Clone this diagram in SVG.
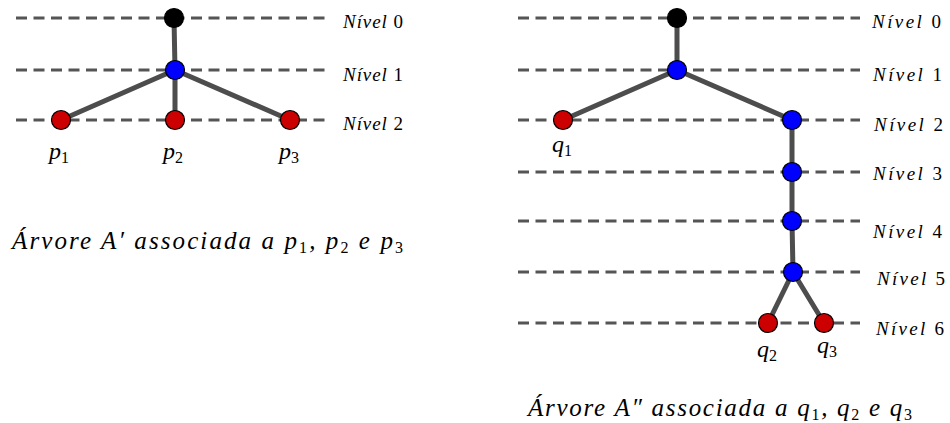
<svg xmlns="http://www.w3.org/2000/svg" width="950" height="423" viewBox="0 0 950 423">
<style>
.lvl{stroke:#555;stroke-width:3.2;stroke-dasharray:11 6.5;fill:none}
.edge{stroke:#4d4d4d;stroke-width:5;stroke-linecap:round;fill:none}
.n{stroke:#000;stroke-width:1.2}
.root{fill:#000}
.blue{fill:#0000ff}
.red{fill:#cc0000}
text{font-family:"Liberation Serif","DejaVu Serif",serif;fill:#000}
.it{font-style:italic}
.lab{font-size:19px}
.v{font-size:24px}
.cap{font-size:25px}
.sub{font-size:16px}
</style>
<rect width="950" height="423" fill="#fff"/>
<g id="levels">
<line class="lvl" x1="16" y1="18" x2="325" y2="18"/>
<line class="lvl" x1="16" y1="70" x2="325" y2="70"/>
<line class="lvl" x1="16" y1="120" x2="325" y2="120"/>
<line class="lvl" x1="518" y1="18" x2="860" y2="18"/>
<line class="lvl" x1="518" y1="70" x2="860" y2="70"/>
<line class="lvl" x1="518" y1="120" x2="860" y2="120"/>
<line class="lvl" x1="518" y1="172" x2="860" y2="172"/>
<line class="lvl" x1="518" y1="221" x2="860" y2="221"/>
<line class="lvl" x1="518" y1="272" x2="860" y2="272"/>
<line class="lvl" x1="518" y1="323" x2="860" y2="323"/>
</g>
<g id="connectors">
<line class="edge" x1="174" y1="18" x2="175" y2="70"/>
<line class="edge" x1="175" y1="70" x2="61" y2="120"/>
<line class="edge" x1="175" y1="70" x2="175" y2="120"/>
<line class="edge" x1="175" y1="70" x2="290" y2="120"/>
<line class="edge" x1="677" y1="18" x2="677" y2="70"/>
<line class="edge" x1="677" y1="70" x2="563" y2="120"/>
<line class="edge" x1="677" y1="70" x2="792" y2="120"/>
<line class="edge" x1="792" y1="120" x2="792" y2="172"/>
<line class="edge" x1="792" y1="172" x2="792" y2="221"/>
<line class="edge" x1="792" y1="221" x2="793" y2="272"/>
<line class="edge" x1="793" y1="272" x2="768" y2="323"/>
<line class="edge" x1="793" y1="272" x2="824" y2="323"/>
</g>
<g id="a1-root"><circle class="n root" cx="174" cy="18" r="9.5"/></g>
<g id="a1-n1"><circle class="n blue" cx="175" cy="70" r="9.5"/></g>
<g id="a1-p1"><circle class="n red" cx="61" cy="120" r="9.5"/><text class="it v" x="49" y="159">p<tspan class="sub" font-style="normal" dy="4">1</tspan></text></g>
<g id="a1-p2"><circle class="n red" cx="175" cy="120" r="9.5"/><text class="it v" x="163" y="159">p<tspan class="sub" font-style="normal" dy="4">2</tspan></text></g>
<g id="a1-p3"><circle class="n red" cx="290" cy="120" r="9.5"/><text class="it v" x="279" y="159">p<tspan class="sub" font-style="normal" dy="4">3</tspan></text></g>
<g id="a2-root"><circle class="n root" cx="677" cy="18" r="9.5"/></g>
<g id="a2-n1"><circle class="n blue" cx="677" cy="70" r="9.5"/></g>
<g id="a2-q1"><circle class="n red" cx="563" cy="120" r="9.5"/><text class="it v" x="552" y="152">q<tspan class="sub" font-style="normal" dy="4">1</tspan></text></g>
<g id="a2-n2"><circle class="n blue" cx="792" cy="120" r="9.5"/></g>
<g id="a2-n3"><circle class="n blue" cx="792" cy="172" r="9.5"/></g>
<g id="a2-n4"><circle class="n blue" cx="792" cy="221" r="9.5"/></g>
<g id="a2-n5"><circle class="n blue" cx="793" cy="272" r="9.5"/></g>
<g id="a2-q2"><circle class="n red" cx="768" cy="323" r="9.5"/><text class="it v" x="757" y="357">q<tspan class="sub" font-style="normal" dy="4">2</tspan></text></g>
<g id="a2-q3"><circle class="n red" cx="824" cy="323" r="9.5"/><text class="it v" x="817" y="353">q<tspan class="sub" font-style="normal" dy="4">3</tspan></text></g>
<g id="labels">
<text class="lab" x="343" y="28" textLength="60" lengthAdjust="spacing"><tspan class="it">Nível</tspan> 0</text>
<text class="lab" x="343" y="81" textLength="60" lengthAdjust="spacing"><tspan class="it">Nível</tspan> 1</text>
<text class="lab" x="343" y="130" textLength="60" lengthAdjust="spacing"><tspan class="it">Nível</tspan> 2</text>
<text class="lab" x="872" y="28" textLength="69" lengthAdjust="spacing"><tspan class="it">Nível</tspan> 0</text>
<text class="lab" x="873" y="81" textLength="69" lengthAdjust="spacing"><tspan class="it">Nível</tspan> 1</text>
<text class="lab" x="874" y="131" textLength="69" lengthAdjust="spacing"><tspan class="it">Nível</tspan> 2</text>
<text class="lab" x="873" y="180" textLength="69" lengthAdjust="spacing"><tspan class="it">Nível</tspan> 3</text>
<text class="lab" x="873" y="238" textLength="69" lengthAdjust="spacing"><tspan class="it">Nível</tspan> 4</text>
<text class="lab" x="877" y="285" textLength="68" lengthAdjust="spacing"><tspan class="it">Nível</tspan> 5</text>
<text class="lab" x="876" y="335" textLength="68" lengthAdjust="spacing"><tspan class="it">Nível</tspan> 6</text>
</g>
<g id="captions">
<text class="cap it" x="12" y="249" textLength="391" lengthAdjust="spacing">Árvore A′ associada a p<tspan class="sub" font-style="normal" dy="4">1</tspan><tspan dy="-4">, p</tspan><tspan class="sub" font-style="normal" dy="4">2</tspan><tspan dy="-4"> e p</tspan><tspan class="sub" font-style="normal" dy="4">3</tspan></text>
<text class="cap it" x="528" y="416" textLength="384" lengthAdjust="spacing">Árvore A″ associada a q<tspan class="sub" font-style="normal" dy="4">1</tspan><tspan dy="-4">, q</tspan><tspan class="sub" font-style="normal" dy="4">2</tspan><tspan dy="-4"> e q</tspan><tspan class="sub" font-style="normal" dy="4">3</tspan></text>
</g>
</svg>
